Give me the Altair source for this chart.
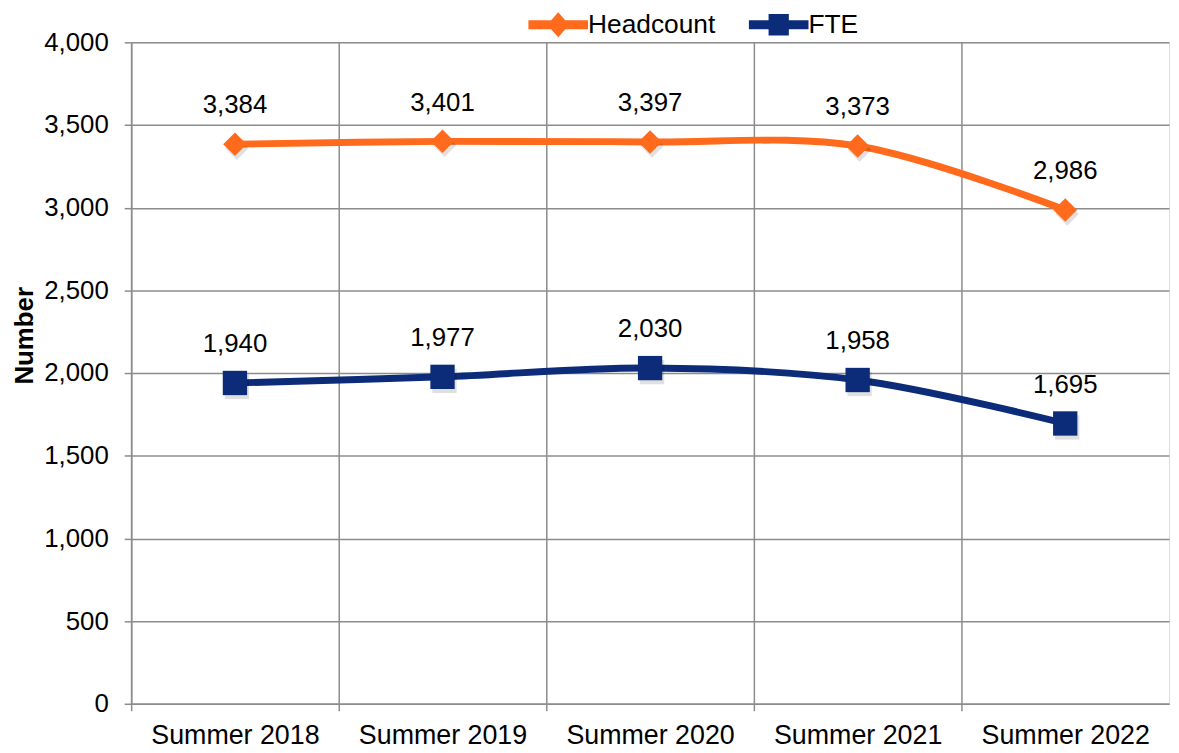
import altair as alt
import pandas as pd

periods = ["Summer 2018", "Summer 2019", "Summer 2020", "Summer 2021", "Summer 2022"]
headcount = [3384, 3401, 3397, 3373, 2986]
fte = [1940, 1977, 2030, 1958, 1695]
series_names = ["Headcount", "FTE"]
series_colors = ["#FF6A1C", "#0C2C7A"]
y_ticks = [0, 500, 1000, 1500, 2000, 2500, 3000, 3500, 4000]

rows = []
for p, h, f in zip(periods, headcount, fte):
    rows.append({"period": p, "series": "Headcount", "value": h})
    rows.append({"period": p, "series": "FTE", "value": f})
df = pd.DataFrame(rows)

FONT = "Liberation Sans"
GRID = "#8c8c8c"

leg_head = "M-1,-0.15L1,-0.15L1,0.15L-1,0.15Z M0,-0.42L0.37,0L0,0.42L-0.37,0Z"
leg_fte = "M-1,-0.15L1,-0.15L1,0.15L-1,0.15Z M-0.34,-0.36L0.34,-0.36L0.34,0.36L-0.34,0.36Z"

color_scale = alt.Scale(domain=series_names, range=series_colors)

x_enc = alt.X(
    "period:N",
    sort=periods,
    scale=alt.Scale(type="point", padding=0.5),
    axis=alt.Axis(
        title=None, labelAngle=0, grid=True, gridColor=GRID, gridWidth=1.5,
        domainColor=GRID, domainWidth=1.5, tickColor=GRID, tickWidth=1.5,
        tickSize=7, tickOffset=-104.5, labelOffset=104.5,
        labelFont=FONT, labelFontSize=27, labelColor="#000000", labelPadding=12,
    ),
)
y_enc = alt.Y(
    "value:Q",
    scale=alt.Scale(domain=[0, 4000], nice=False),
    axis=alt.Axis(
        title="Number", values=y_ticks, format=",.0f", grid=True, gridColor=GRID,
        gridWidth=1.5, domainColor=GRID, domainWidth=1.5, tickColor=GRID,
        tickWidth=1.5, tickSize=7, labelFont=FONT, labelFontSize=26,
        labelColor="#000000", labelPadding=16, titleFont=FONT, titleFontSize=26,
        titleFontWeight="bold", titleColor="#000000", titleX=-94, titleY=295,
    ),
)

base = alt.Chart(df).encode(x=x_enc, y=y_enc)
head = base.transform_filter(alt.datum.series == "Headcount")
ftes = base.transform_filter(alt.datum.series == "FTE")

head_line = head.mark_line(strokeWidth=7, interpolate="catmull-rom", color=series_colors[0])
fte_line = ftes.mark_line(strokeWidth=7, interpolate="catmull-rom", color=series_colors[1])

head_shadow = head.mark_point(
    filled=True, color="#000000", opacity=0.12, xOffset=2, yOffset=4, shape="diamond", size=560
)
fte_shadow = ftes.mark_point(
    filled=True, color="#000000", opacity=0.12, xOffset=2, yOffset=4, shape="square", size=600
)

head_pts = head.mark_point(
    filled=True, opacity=1, shape="diamond", size=560, color=series_colors[0]
)
fte_pts = ftes.mark_point(
    filled=True, opacity=1, shape="square", size=600, color=series_colors[1]
)

labels = base.mark_text(
    dy=-39, font=FONT, fontSize=26, color="#000000"
).encode(text=alt.Text("value:Q", format=","))

legend_layer = alt.Chart(df).transform_filter("false").mark_point(
    filled=True, opacity=1
).encode(
    color=alt.Color(
        "series:N", scale=color_scale,
        legend=alt.Legend(
            title=None, orient="none", direction="horizontal", legendX=400,
            legendY=-48, symbolSize=3600, labelFont=FONT, labelFontSize=26.5,
            labelColor="#000000", labelOffset=0, columnPadding=33, padding=0,
            symbolStrokeWidth=0, symbolOpacity=1,
        ),
    ),
    shape=alt.Shape("series:N", scale=alt.Scale(domain=series_names, range=[leg_head, leg_fte])),
)

chart = alt.layer(
    head_line, fte_line, head_shadow, fte_shadow, head_pts, fte_pts, labels, legend_layer
).properties(
    width=1045, height=666,
    autosize=alt.AutoSizeParams(type="none"),
    padding={"left": 124, "top": 32, "right": 2, "bottom": 45},
).configure_view(stroke=None).configure(background="white")

chart.save("out.html", embed_options={"renderer": "svg", "actions": False})
